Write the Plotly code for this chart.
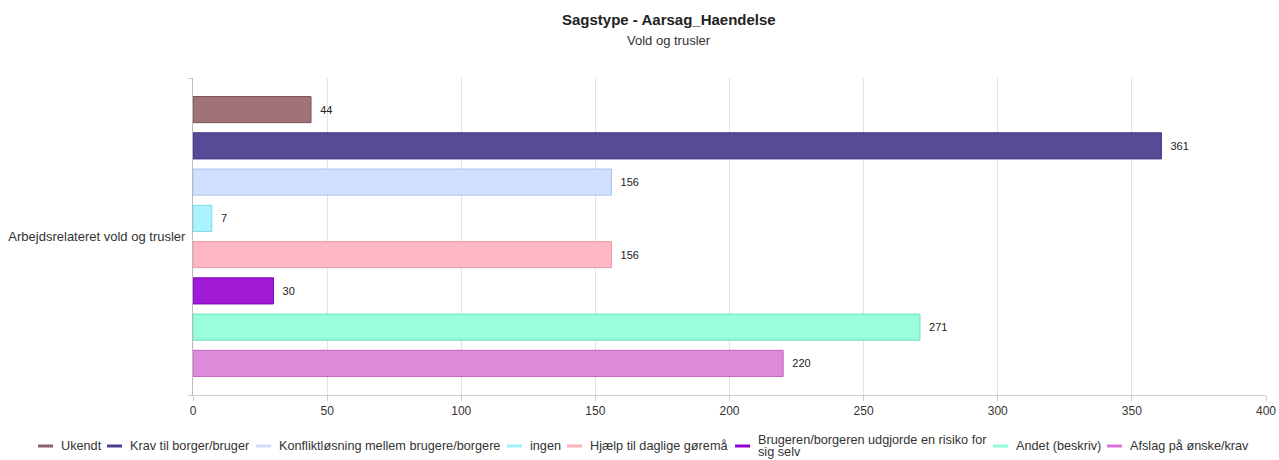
import plotly.graph_objects as go

category = ["Arbejdsrelateret vold og trusler"]
series_names = [
    "Ukendt",
    "Krav til borger/bruger",
    "Konfliktløsning mellem brugere/borgere",
    "ingen",
    "Hjælp til daglige gøremå",
    "Brugeren/borgeren udgjorde en risiko for<br>sig selv",
    "Andet (beskriv)",
    "Afslag på ønske/krav",
]
series_values = [44, 361, 156, 7, 156, 30, 271, 220]
fill_colors = ["#A0737B", "#574B98", "#D0E1FF", "#A9F3FF", "#FFB8C3", "#A11AD6", "#99FFDB", "#DE8BDC"]
line_colors = ["#7E4F58", "#3E3582", "#A9C2EA", "#7FD8E8", "#E79CA8", "#8200BC", "#6FE0B8", "#C062BE"]
legend_colors = ["#8E5F67", "#4A3F8E", "#CCDDFF", "#9FF0FF", "#FFB1BD", "#9400D3", "#8FFFD6", "#DA70D6"]
x_ticks = [0, 50, 100, 150, 200, 250, 300, 350, 400]

# layout (pixels in the 1279x460 page)
W, H = 1279, 460
PL, PR, PT, PB = 193, 13, 78, 65
legend_symbol_x = [38, 107, 256, 507, 567, 735, 993, 1107]
legend_y = 446
legend_line_h = 12.5

FONT = "Liberation Sans, Arial, sans-serif"
PW, PH = W - PL - PR, H - PT - PB


def px_x(x):
    return (x - PL) / PW


def px_y(y):
    return 1 - (y - PT) / PH


fig = go.Figure()
for name, val, fc, lc in zip(series_names, series_values, fill_colors, line_colors):
    fig.add_trace(go.Bar(
        y=category, x=[val], orientation="h", name=name.replace("<br>", " "),
        marker=dict(color=fc, line=dict(color=lc, width=1)),
        text=["\u00a0\u00a0" + str(val)], textposition="outside",
        textfont=dict(family=FONT, size=11, color="#222"),
        cliponaxis=False, showlegend=False, hoverinfo="x+name",
    ))

shapes = []
annotations = [
    dict(text="<b>Sagstype - Aarsag_Haendelse</b>", x=px_x(669), y=px_y(19),
         xref="paper", yref="paper", xanchor="center", yanchor="middle",
         showarrow=False, font=dict(family=FONT, size=15, color="#222")),
    dict(text="Vold og trusler", x=px_x(669), y=px_y(40),
         xref="paper", yref="paper", xanchor="center", yanchor="middle",
         showarrow=False, font=dict(family=FONT, size=13, color="#333")),
]
for name, col, sx in zip(series_names, legend_colors, legend_symbol_x):
    shapes.append(dict(type="line", xref="paper", yref="paper",
                       x0=px_x(sx), x1=px_x(sx + 15), y0=px_y(legend_y), y1=px_y(legend_y),
                       line=dict(color=col, width=3)))
    lines = name.split("<br>")
    top = legend_y - (len(lines) - 1) * legend_line_h / 2
    for i, ln in enumerate(lines):
        annotations.append(dict(text=ln, x=px_x(sx + 21), y=px_y(top + i * legend_line_h),
                                xref="paper", yref="paper", xanchor="left", yanchor="middle",
                                align="left", showarrow=False,
                                font=dict(family=FONT, size=12.7, color="#333")))

fig.update_layout(
    width=W, height=H,
    margin=dict(l=PL, r=PR, t=PT, b=PB, autoexpand=False),
    paper_bgcolor="white", plot_bgcolor="white",
    barmode="group", bargap=0.085, bargroupgap=0.28,
    font=dict(family=FONT, size=12, color="#333"),
    showlegend=False,
    xaxis=dict(
        range=[0, 400], tickvals=x_ticks, showgrid=True, gridcolor="#e3e3e3",
        zeroline=False, showline=True, linecolor="#cccccc", linewidth=1,
        ticks="outside", ticklen=5, tickcolor="#cccccc", automargin=False,
        tickfont=dict(family=FONT, size=12, color="#333"),
    ),
    yaxis=dict(
        autorange="reversed", showline=True, linecolor="#bbbbbb", linewidth=1,
        tickson="boundaries", ticks="outside", ticklen=4, tickcolor="#cccccc",
        showgrid=True, gridcolor="#eeeeee", automargin=False,
        tickfont=dict(family=FONT, size=13, color="#333"),
        ticklabelstandoff=4,
    ),
    shapes=shapes,
    annotations=annotations,
)

fig.write_html("out.html", config={"displayModeBar": False},
               post_script="document.body.style.margin='0';document.body.style.overflow='hidden';")
